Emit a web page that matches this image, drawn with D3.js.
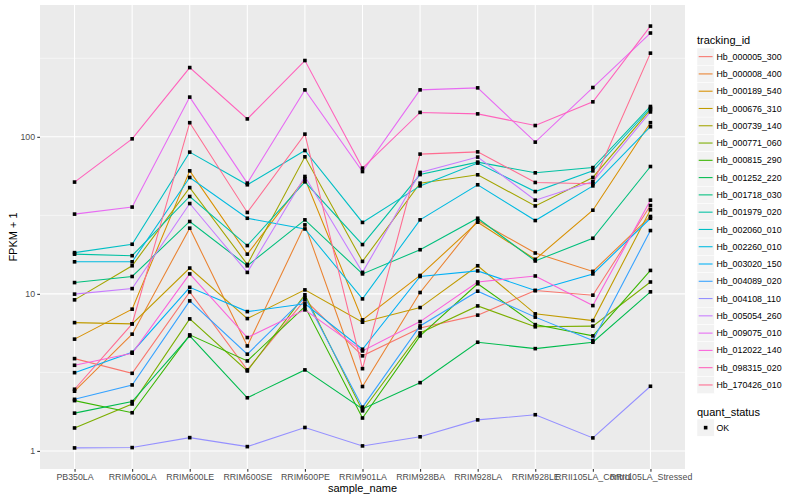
<!DOCTYPE html>
<html>
<head>
<meta charset="utf-8">
<script src="https://cdn.jsdelivr.net/npm/d3@7"></script>
<style>
    body { margin: 0; background: #fff; }
    text { font-family: "Liberation Sans", Arial, sans-serif; }
</style>
</head>
<body>
<div id="chart"></div>
<script>
// Categories on the x axis
const samples = ['PB350LA', 'RRIM600LA', 'RRIM600LE', 'RRIM600SE', 'RRIM600PE', 'RRIM901LA',
    'RRIM928BA', 'RRIM928LA', 'RRIM928LE', 'RRII105LA_Control', 'RRII105LA_Stressed'];

const trackingIds = ['Hb_000005_300', 'Hb_000008_400', 'Hb_000189_540', 'Hb_000676_310', 'Hb_000739_140',
    'Hb_000771_060', 'Hb_000815_290', 'Hb_001252_220', 'Hb_001718_030', 'Hb_001979_020',
    'Hb_002060_010', 'Hb_002260_010', 'Hb_003020_150', 'Hb_004089_020', 'Hb_004108_110',
    'Hb_005054_260', 'Hb_009075_010', 'Hb_012022_140', 'Hb_098315_020', 'Hb_170426_010'];

// ggplot hue palette for 20 groups
const palette = ['#F8766D', '#EA8331', '#D89000', '#C09B00', '#A3A500', '#7CAE00', '#39B600', '#00BB4E',
    '#00BF7D', '#00C1A3', '#00BFC4', '#00BAE0', '#00B0F6', '#35A2FF', '#9590FF', '#C77CFF',
    '#E76BF3', '#FA62DB', '#FF62BC', '#FF6C91'];

const yTicks = [1, 10, 100];
const quantStatus = ['OK'];

// FPKM + 1 per tracking_id, in sample order
const hb_000005_300 = [3.87, 3.12, 10.3, 3.28, 9.16, 4.03, 6.07, 7.32, 10.5, 9.81, 36.5];
const hb_000008_400 = [2.40, 5.54, 26.2, 4.66, 27.5, 2.57, 10.2, 29.3, 18.2, 13.9, 31.1];
const hb_000189_540 = [5.15, 7.99, 60.7, 17.9, 54.0, 6.83, 13.1, 28.6, 16.6, 34.1, 123];
const hb_000676_310 = [6.56, 6.44, 14.6, 6.96, 10.6, 6.60, 8.18, 15.1, 7.46, 6.76, 34.3];
const hb_000739_140 = [9.16, 15.1, 47.5, 15.4, 74.6, 16.1, 50.7, 57.3, 36.3, 55.1, 149];
const hb_000771_060 = [1.40, 1.99, 6.93, 3.23, 9.86, 1.80, 5.64, 8.38, 6.17, 6.23, 11.9];
const hb_000815_290 = [2.09, 1.75, 5.48, 3.74, 8.30, 1.62, 5.40, 11.6, 6.37, 5.40, 14.1];
const hb_001252_220 = [1.74, 2.06, 5.40, 2.18, 3.28, 1.85, 2.72, 4.92, 4.48, 4.92, 10.3];
const hb_001718_030 = [11.8, 12.9, 28.9, 15.1, 29.6, 13.4, 19.1, 30.3, 16.2, 22.6, 64.7];
const hb_001979_020 = [17.9, 17.5, 41.7, 20.3, 51.7, 20.6, 57.5, 69.0, 59.0, 63.7, 156];
const hb_002060_010 = [18.3, 20.7, 79.9, 49.5, 81.8, 28.5, 48.7, 68.0, 44.8, 60.7, 152];
const hb_002260_010 = [16.0, 16.0, 55.1, 30.3, 25.9, 9.29, 29.6, 49.5, 29.3, 48.7, 116];
const hb_003020_150 = [3.15, 4.25, 11.0, 7.71, 8.64, 4.44, 12.9, 14.0, 10.5, 13.4, 30.3];
const hb_004089_020 = [2.13, 2.63, 9.02, 4.13, 9.47, 1.90, 6.25, 10.4, 7.11, 5.04, 25.3];
const hb_004108_110 = [1.045, 1.05, 1.215, 1.065, 1.41, 1.076, 1.23, 1.576, 1.70, 1.21, 2.58];
const hb_005054_260 = [9.96, 10.8, 37.6, 13.7, 55.9, 13.7, 59.3, 74.3, 39.5, 51.9, 144];
const hb_009075_010 = [32.2, 35.7, 179, 50.7, 199, 60.1, 199, 205, 92.5, 206, 458];
const hb_012022_140 = [3.51, 4.19, 13.4, 5.27, 7.91, 4.33, 6.66, 11.9, 13.0, 8.42, 39.5];
const hb_098315_020 = [51.5, 97.1, 276, 130, 306, 63.2, 143, 140, 118, 167, 507];
const hb_170426_010 = [2.47, 6.44, 123, 33.0, 104, 3.34, 77.6, 80.2, 51.2, 50.2, 341];

const seriesValues = [hb_000005_300, hb_000008_400, hb_000189_540, hb_000676_310, hb_000739_140,
    hb_000771_060, hb_000815_290, hb_001252_220, hb_001718_030, hb_001979_020,
    hb_002060_010, hb_002260_010, hb_003020_150, hb_004089_020, hb_004108_110,
    hb_005054_260, hb_009075_010, hb_012022_140, hb_098315_020, hb_170426_010];

const series = trackingIds.map((id, i) => ({
    id: id,
    color: palette[i],
    values: seriesValues[i].map((v, j) => ({ sample: samples[j], value: v }))
}));

// Dimensions
const width = 800, height = 500;
const panel = { left: 40, right: 685, top: 5, bottom: 469 };

const svg = d3.select('#chart').append('svg')
    .attr('width', width)
    .attr('height', height)
    .style('background-color', '#fff');

// Scales (log y with 5% expansion like ggplot)
const x = d3.scalePoint()
    .domain(samples)
    .range([panel.left, panel.right])
    .padding(0.6);

const allValues = seriesValues.flat();
const lo = Math.log10(d3.min(allValues)), hi = Math.log10(d3.max(allValues));
const pad = (hi - lo) * 0.05;
const y = d3.scaleLog()
    .domain([Math.pow(10, lo - pad), Math.pow(10, hi + pad)])
    .range([panel.bottom, panel.top]);

// Panel background
svg.append('rect')
    .attr('x', panel.left)
    .attr('y', panel.top)
    .attr('width', panel.right - panel.left)
    .attr('height', panel.bottom - panel.top)
    .attr('fill', '#EBEBEB');

// Grid lines
const minorTicks = [Math.sqrt(10), Math.sqrt(1000), Math.sqrt(100000)]
    .filter(v => v > y.domain()[0] && v < y.domain()[1]);

const grid = svg.append('g');
grid.selectAll('line.minor')
    .data(minorTicks)
    .enter()
    .append('line')
    .attr('x1', panel.left).attr('x2', panel.right)
    .attr('y1', d => y(d)).attr('y2', d => y(d))
    .attr('stroke', '#fff')
    .attr('stroke-width', 0.53);

grid.selectAll('line.major')
    .data(yTicks)
    .enter()
    .append('line')
    .attr('x1', panel.left).attr('x2', panel.right)
    .attr('y1', d => y(d)).attr('y2', d => y(d))
    .attr('stroke', '#fff')
    .attr('stroke-width', 1.07);

grid.selectAll('line.vert')
    .data(samples)
    .enter()
    .append('line')
    .attr('x1', d => x(d)).attr('x2', d => x(d))
    .attr('y1', panel.top).attr('y2', panel.bottom)
    .attr('stroke', '#fff')
    .attr('stroke-width', 1.07);

// Lines
const line = d3.line()
    .x(d => x(d.sample))
    .y(d => y(d.value));

svg.append('g')
    .selectAll('path')
    .data(series)
    .enter()
    .append('path')
    .attr('d', d => line(d.values))
    .attr('fill', 'none')
    .attr('stroke', d => d.color)
    .attr('stroke-width', 1.07);

// Points (black squares)
const pts = series.flatMap(s => s.values);
const ps = 3.6;
svg.append('g')
    .selectAll('rect')
    .data(pts)
    .enter()
    .append('rect')
    .attr('x', d => x(d.sample) - ps / 2)
    .attr('y', d => y(d.value) - ps / 2)
    .attr('width', ps)
    .attr('height', ps)
    .attr('fill', '#000');

// Axes
const yAxis = svg.append('g')
    .attr('transform', `translate(${panel.left},0)`)
    .call(d3.axisLeft(y).tickValues(yTicks).tickFormat(d3.format('d')).tickSize(2.75).tickPadding(2.2));

const xAxis = svg.append('g')
    .attr('transform', `translate(0,${panel.bottom})`)
    .call(d3.axisBottom(x).tickSize(2.75).tickPadding(2.2));

[yAxis, xAxis].forEach(ax => {
    ax.select('.domain').remove();
    ax.selectAll('line').attr('stroke', '#333333').attr('stroke-width', 1.07);
    ax.selectAll('text')
        .attr('fill', '#4D4D4D')
        .style('font-size', '8.8px')
        .style('font-family', '"Liberation Sans", Arial, sans-serif');
});

// Axis titles
svg.append('text')
    .attr('x', (panel.left + panel.right) / 2)
    .attr('y', 492)
    .attr('text-anchor', 'middle')
    .style('font-size', '11px')
    .text('sample_name');

svg.append('text')
    .attr('transform', `translate(17,${(panel.top + panel.bottom) / 2}) rotate(-90)`)
    .attr('text-anchor', 'middle')
    .style('font-size', '11px')
    .text('FPKM + 1');

// Legend: tracking_id
const legend = svg.append('g').attr('transform', 'translate(697,0)');
const keySize = 17.28;

legend.append('text')
    .attr('x', 0)
    .attr('y', 44)
    .style('font-size', '11px')
    .text('tracking_id');

const keys = legend.selectAll('g.key')
    .data(series)
    .enter()
    .append('g')
    .attr('transform', (d, i) => `translate(0,${48 + i * keySize})`);

keys.append('rect')
    .attr('width', keySize)
    .attr('height', keySize)
    .attr('fill', '#F2F2F2')
    .attr('stroke', '#fff')
    .attr('stroke-width', 0.5);

keys.append('line')
    .attr('x1', 1.7).attr('x2', keySize - 1.7)
    .attr('y1', keySize / 2).attr('y2', keySize / 2)
    .attr('stroke', d => d.color)
    .attr('stroke-width', 1.07);

keys.append('text')
    .attr('x', keySize + 2.2)
    .attr('y', keySize / 2 + 3.1)
    .style('font-size', '8.8px')
    .text(d => d.id);

// Legend: quant_status
const legend2 = svg.append('g').attr('transform', 'translate(697,0)');
legend2.append('text')
    .attr('x', 0)
    .attr('y', 415.5)
    .style('font-size', '11px')
    .text('quant_status');

const keys2 = legend2.selectAll('g.key')
    .data(quantStatus)
    .enter()
    .append('g')
    .attr('transform', (d, i) => `translate(0,${419 + i * keySize})`);

keys2.append('rect')
    .attr('width', keySize)
    .attr('height', keySize)
    .attr('fill', '#F2F2F2')
    .attr('stroke', '#fff')
    .attr('stroke-width', 0.5);

keys2.append('rect')
    .attr('x', keySize / 2 - ps / 2)
    .attr('y', keySize / 2 - ps / 2)
    .attr('width', ps)
    .attr('height', ps)
    .attr('fill', '#000');

keys2.append('text')
    .attr('x', keySize + 2.2)
    .attr('y', keySize / 2 + 3.1)
    .style('font-size', '8.8px')
    .text(d => d);
</script>
</body>
</html>
